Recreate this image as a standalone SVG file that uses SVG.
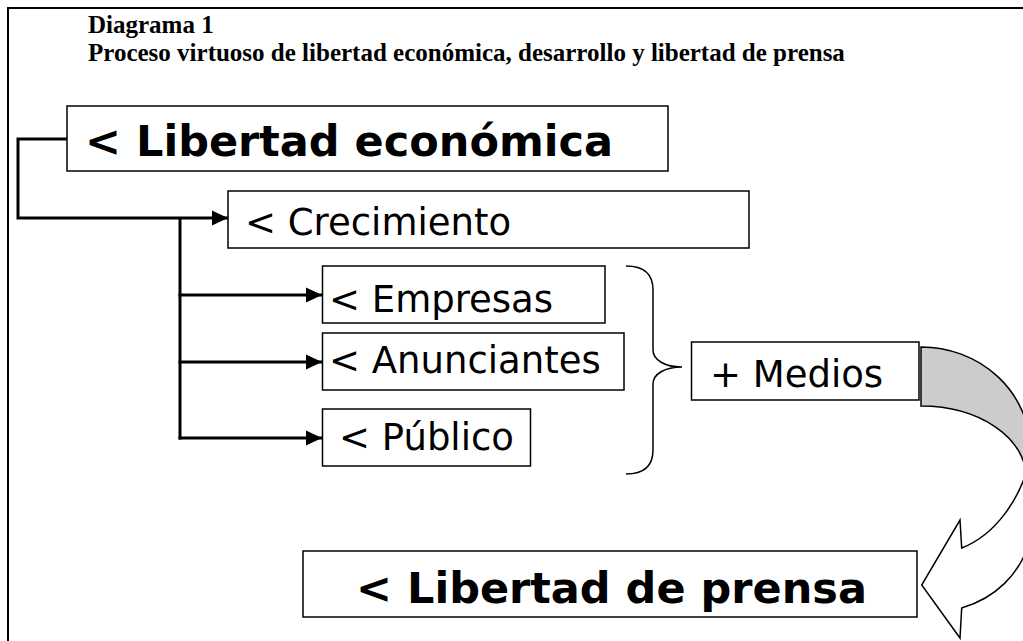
<svg xmlns="http://www.w3.org/2000/svg" width="1023" height="641" viewBox="0 0 1023 641">
<style>
.box{fill:#fff;stroke:#000;stroke-width:1.5}
.big{font-family:"DejaVu Sans",Verdana,sans-serif;font-weight:bold;font-size:43px;fill:#000}
.txt{font-family:"DejaVu Sans",Verdana,sans-serif;font-size:37px;fill:#000}
.title{font-family:"Liberation Serif","Times New Roman",serif;font-weight:bold;font-size:25px;fill:#000}
.conn{fill:none;stroke:#000;stroke-width:3}
</style>
<defs>
<marker id="ah" markerUnits="userSpaceOnUse" markerWidth="16" markerHeight="16" refX="16" refY="8" orient="auto" viewBox="0 0 16 16">
<path d="M0,0.5 L16,8 L0,15.5 Z" fill="#000"/>
</marker>
</defs>
<rect x="8" y="8" width="1100" height="700" fill="#fff" stroke="#000" stroke-width="2"/>
<g id="title">
<text class="title" x="88" y="33">Diagrama 1</text>
<text class="title" x="88" y="61">Proceso virtuoso de libertad económica, desarrollo y libertad de prensa</text>
</g>
<g id="connectors">
<polyline class="conn" points="67,139 18,139 18,218 228,218" marker-end="url(#ah)"/>
<line class="conn" x1="180" y1="218" x2="180" y2="439.5"/>
<line class="conn" x1="178.5" y1="295" x2="322" y2="295" marker-end="url(#ah)"/>
<line class="conn" x1="178.5" y1="362" x2="322" y2="362" marker-end="url(#ah)"/>
<line class="conn" x1="178.5" y1="438" x2="322" y2="438" marker-end="url(#ah)"/>
<path d="M626,266 C645,266 653,275 653,290 L653,350 C653,360 665,367 682,367 C665,367 653,374 653,384 L653,450 C653,465 645,474 626,474" fill="none" stroke="#000" stroke-width="1.5"/>
<path d="M921,347 A109 102 0 0 1 1030,449 L1030,477 L1026,477 A105 71 0 0 0 921,406 Z" fill="#cccccc" stroke="#000" stroke-width="1.5"/>
<path d="M1030,460 C1020,500 995,535 961.7,548 L960,520 L921.7,585 L960,638 L961.7,608 C995,598 1020,575 1030,540 Z" fill="#fff" stroke="#000" stroke-width="1.5"/>
</g>
<g id="n-libertad-economica">
<rect class="box" x="67" y="106" width="601" height="65"/>
<text class="big" x="85" y="156">&lt; Libertad económica</text>
</g>
<g id="n-crecimiento">
<rect class="box" x="228" y="191" width="521" height="57"/>
<text class="txt" x="245" y="235">&lt; Crecimiento</text>
</g>
<g id="n-empresas">
<rect class="box" x="322.5" y="266" width="282.5" height="57"/>
<text class="txt" x="329" y="312">&lt; Empresas</text>
</g>
<g id="n-anunciantes">
<rect class="box" x="322.5" y="333" width="301.5" height="57"/>
<text class="txt" x="329" y="373">&lt; Anunciantes</text>
</g>
<g id="n-publico">
<rect class="box" x="322.5" y="409" width="208" height="57"/>
<text class="txt" x="339" y="450">&lt; Público</text>
</g>
<g id="n-medios">
<rect class="box" x="691.5" y="342" width="227.5" height="58"/>
<text class="txt" x="710" y="387">+ Medios</text>
</g>
<g id="n-libertad-prensa">
<rect class="box" x="303" y="551" width="614" height="66"/>
<text class="big" x="356" y="603">&lt; Libertad de prensa</text>
</g>
</svg>
